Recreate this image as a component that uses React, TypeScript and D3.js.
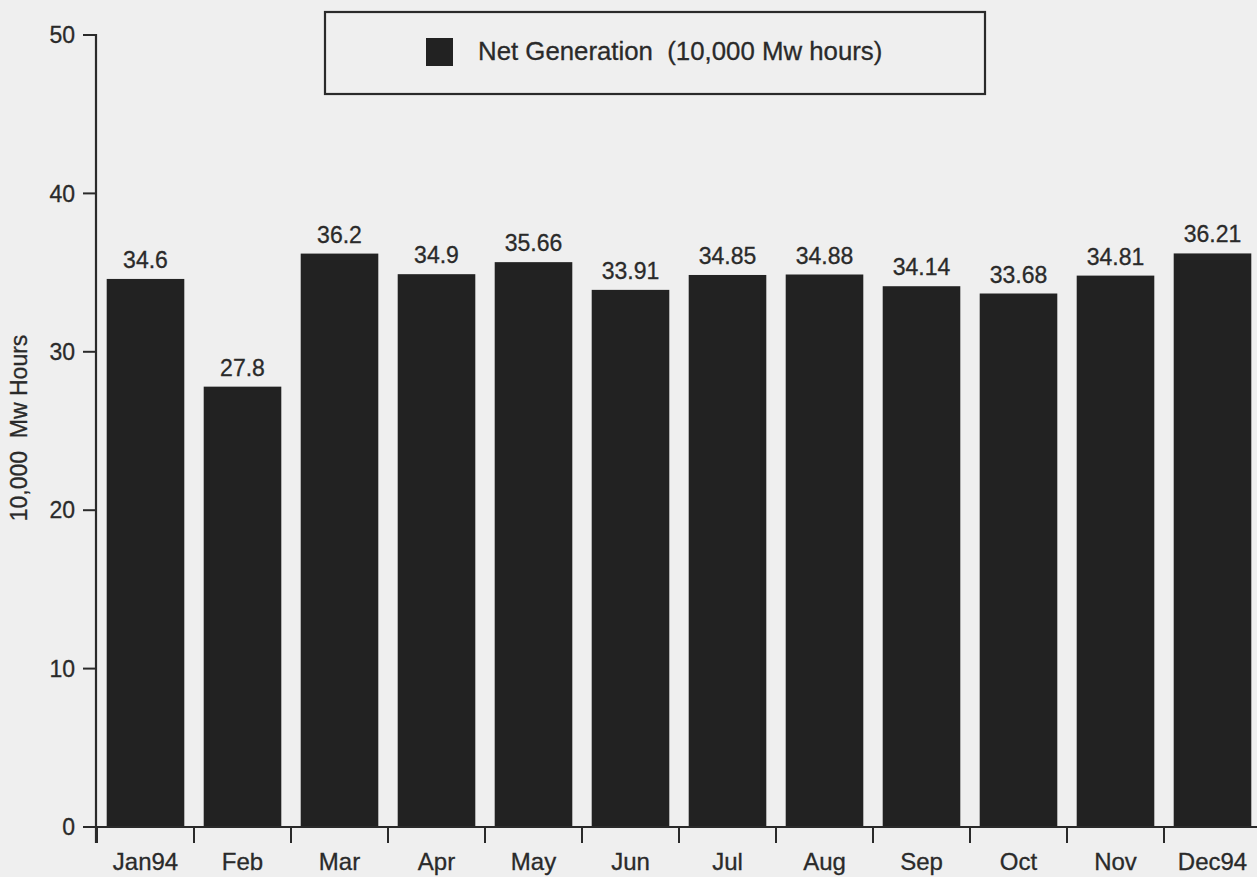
import React from "react";
import * as d3 from "d3";

const months = ["Jan94", "Feb", "Mar", "Apr", "May", "Jun", "Jul", "Aug", "Sep", "Oct", "Nov", "Dec94"];
const netGeneration = [34.6, 27.8, 36.2, 34.9, 35.66, 33.91, 34.85, 34.88, 34.14, 33.68, 34.81, 36.21];
const valueLabels = ["34.6", "27.8", "36.2", "34.9", "35.66", "33.91", "34.85", "34.88", "34.14", "33.68", "34.81", "36.21"];
const yTicks = [0, 10, 20, 30, 40, 50];
const legendLabel = "Net Generation  (10,000 Mw hours)";
const yTitle = "10,000  Mw Hours";

const W = 1257;
const H = 877;
const FONT = "'Liberation Sans', Arial, Helvetica, sans-serif";
const INK = "#2a2a2a";

export default function App() {
  const x = d3.scaleBand<string>().domain(months).range([97, 1261]).paddingInner(0.2).paddingOuter(0.1);
  const y = d3.scaleLinear().domain([0, 50]).range([827, 35]);
  const gap = x.step() * x.paddingInner();

  return (
    <svg width={W} height={H} style={{ position: "absolute", left: 0, top: 0, background: "#efefef" }} fontFamily={FONT}>
      <rect x={0} y={0} width={W} height={H} fill="#efefef" />
      {months.map((m, i) => (
        <rect key={m} x={x(m)!} y={y(netGeneration[i])} width={x.bandwidth()} height={y(0) - y(netGeneration[i])} fill="#222222" />
      ))}
      {months.map((m, i) => (
        <text key={"v" + m} x={x(m)! + x.bandwidth() / 2} y={y(netGeneration[i]) - 11} textAnchor="middle" fontSize={23} fill={INK} stroke={INK} strokeWidth={0.3}>
          {valueLabels[i]}
        </text>
      ))}
      <line x1={96} x2={96} y1={y(50) - 1} y2={843} stroke={INK} strokeWidth={2.2} />
      {yTicks.map((t) => (
        <g key={"y" + t}>
          <line x1={83} x2={96} y1={y(t)} y2={y(t)} stroke={INK} strokeWidth={2} />
          <text x={75} y={y(t)} dy="0.36em" textAnchor="end" fontSize={23} fill={INK} stroke={INK} strokeWidth={0.3}>
            {t}
          </text>
        </g>
      ))}
      <line x1={95} x2={W} y1={y(0)} y2={y(0)} stroke={INK} strokeWidth={2.2} />
      {months.map((m) => (
        <g key={"x" + m}>
          <line x1={x(m)! - gap / 2} x2={x(m)! - gap / 2} y1={y(0)} y2={843} stroke={INK} strokeWidth={2} />
          <text x={x(m)! + x.bandwidth() / 2} y={870} textAnchor="middle" fontSize={24} fill={INK} stroke={INK} strokeWidth={0.3}>
            {m}
          </text>
        </g>
      ))}
      <text transform={`translate(27,428) rotate(-90)`} textAnchor="middle" fontSize={23} fill={INK} stroke={INK} strokeWidth={0.3} style={{ whiteSpace: "pre" }}>
        {yTitle}
      </text>
      <rect x={325} y={12} width={660} height={82} fill="none" stroke={INK} strokeWidth={2.2} />
      <rect x={426} y={38} width={27} height={28} fill="#222222" />
      <text x={478} y={60} fontSize={25.8} fill={INK} stroke={INK} strokeWidth={0.3} style={{ whiteSpace: "pre" }}>
        {legendLabel}
      </text>
    </svg>
  );
}
